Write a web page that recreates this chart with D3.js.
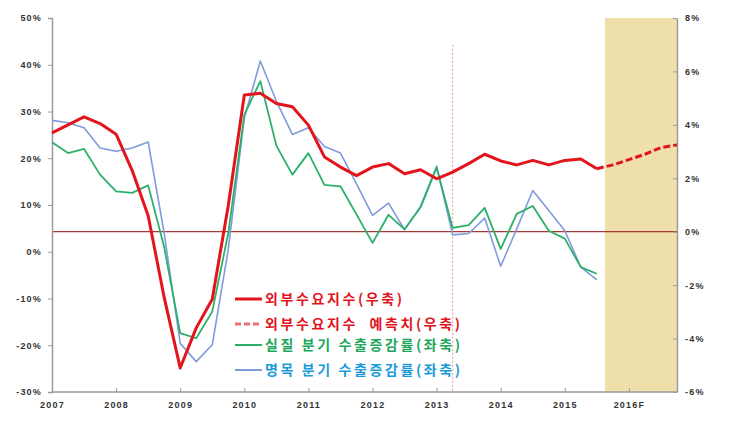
<!DOCTYPE html>
<html><head><meta charset="utf-8">
<script src="https://cdn.jsdelivr.net/npm/d3@7"></script>
<style>
html,body{margin:0;padding:0;background:#fff;}
svg{display:block;}
</style></head>
<body>
<svg id="chart" width="732" height="422"></svg>
<script>
// Quarterly categories 2007Q1 .. 2016Q4 (index 0..39)
const years = ["2007","2008","2009","2010","2011","2012","2013","2014","2015","2016F"];
const leftTicks = [50,40,30,20,10,0,-10,-20,-30];
const rightTicks = [8,6,4,2,0,-2,-4,-6];

// 외부수요지수 (right axis, %), 2007Q1..2015Q3
const demandIndex = [3.7,4.0,4.3,4.05,3.65,2.3,0.6,-2.46,-5.1,-3.6,-2.53,0.98,5.12,5.18,4.8,4.68,
  3.99,2.8,2.42,2.1,2.42,2.55,2.17,2.32,1.98,2.23,2.55,2.9,2.65,2.5,2.67,2.5,2.67,2.72,2.36];
// 외부수요지수 예측치 (right axis, %), 2015Q3..2016Q4
const demandForecast = [2.36,2.5,2.7,2.9,3.15,3.25];
const forecastStart = 34;
// 실질 분기 수출증감률 (left axis, %)
const realExport = [23.4,21.1,22.0,16.5,12.9,12.6,14.2,1.0,-17.4,-18.5,-12.8,4.0,29.3,36.5,22.7,16.5,
  21.1,14.3,14.0,8.0,1.9,7.9,4.8,9.5,18.0,5.1,5.7,9.4,0.6,8.1,9.8,4.5,2.8,-3.3,-4.7];
// 명목 분기 수출증감률 (left axis, %)
const nominalExport = [28.1,27.6,26.5,22.2,21.5,22.2,23.5,4.0,-19.6,-23.5,-19.9,0.5,28.6,40.8,32.2,25.1,
  26.5,22.5,21.1,14.5,7.8,10.4,4.7,9.7,18.3,3.6,3.9,7.2,-3.1,4.9,13.1,8.8,4.5,-3.3,-6.0];

const shadeFrom = 34.5, shadeTo = 39;   // forecast period
const markerAt = 25;                    // dotted vertical marker (2013Q2)

const legendItems = [
  {label:"외부수요지수(우축)", color:"#e3141c", text:"#e3141c", dash:null, w:3},
  {label:"외부수요지수  예측치(우축)", color:"#ee6f7c", text:"#e3141c", dash:"6,3", w:3},
  {label:"실질 분기 수출증감률(좌축)", color:"#2bb06a", text:"#22a65b", dash:null, w:2},
  {label:"명목 분기 수출증감률(좌축)", color:"#7f9bdb", text:"#1c9ad8", dash:null, w:2}
];

const svg = d3.select("#chart");
const L = 52, R = 677, T = 18, B = 392;
const x = d3.scaleLinear().domain([0,39]).range([L,R]);
const yL = d3.scaleLinear().domain([-30,50]).range([B,T]);
const yR = d3.scaleLinear().domain([-6,8]).range([B,T]);

// forecast shading
svg.append("rect").attr("x", x(shadeFrom)).attr("y", T)
  .attr("width", x(shadeTo) - x(shadeFrom)).attr("height", B - T)
  .attr("fill", "#efdfab");

// dotted marker
svg.append("line").attr("x1", x(markerAt)).attr("x2", x(markerAt))
  .attr("y1", yL(44.3)).attr("y2", B)
  .attr("stroke", "#f3a3ad").attr("stroke-width", 1.2).attr("stroke-dasharray", "2,2");

// zero line of right axis
svg.append("line").attr("x1", L).attr("x2", R).attr("y1", yR(0)).attr("y2", yR(0))
  .attr("stroke", "#a33a35").attr("stroke-width", 1.2);

// axes
const fmt = d => d + "%";
const gL = svg.append("g").attr("transform", `translate(${L},0)`)
  .call(d3.axisLeft(yL).tickValues(leftTicks).tickFormat(fmt).tickSize(4).tickPadding(6));
const gR = svg.append("g").attr("transform", `translate(${R},0)`)
  .call(d3.axisRight(yR).tickValues(rightTicks).tickFormat(fmt).tickSize(0).tickPadding(8));
gR.selectAll(".tick").append("line").attr("x1", -4).attr("x2", 0).attr("stroke", "#999");
const gX = svg.append("g").attr("transform", `translate(0,${B})`)
  .call(d3.axisBottom(x).tickValues(d3.range(0, 40, 4)).tickFormat((d,i) => years[i]).tickSize(0).tickPadding(10));
gX.selectAll(".tick").append("line").attr("y1", -4).attr("y2", 0).attr("stroke", "#999");

[gL, gR, gX].forEach(g => {
  g.select(".domain").attr("stroke", "#9a9a9a").attr("stroke-width", 1.5);
  g.selectAll(".tick line").attr("stroke", "#9a9a9a");
  g.selectAll("text").attr("font-family", "Liberation Sans, Arial, sans-serif")
    .attr("font-size", 9).attr("fill", "#333").attr("letter-spacing", "1.2px").attr("font-weight", "bold");
});
gX.select(".domain").attr("d", `M${L},0H${R}`);

// lines
const lineL = d3.line().x((d,i) => x(i)).y(d => yL(d));
const lineR = d3.line().x((d,i) => x(i)).y(d => yR(d));
const lineF = d3.line().x((d,i) => x(forecastStart + i)).y(d => yR(d));

svg.append("path").datum(nominalExport).attr("d", lineL)
  .attr("fill", "none").attr("stroke", "#7f9bdb").attr("stroke-width", 1.6).attr("stroke-linejoin", "round");
svg.append("path").datum(realExport).attr("d", lineL)
  .attr("fill", "none").attr("stroke", "#2bb06a").attr("stroke-width", 1.8).attr("stroke-linejoin", "round");
svg.append("path").datum(demandIndex).attr("d", lineR)
  .attr("fill", "none").attr("stroke", "#e3141c").attr("stroke-width", 3).attr("stroke-linejoin", "round");
svg.append("path").datum(demandForecast).attr("d", lineF)
  .attr("fill", "none").attr("stroke", "#e3141c").attr("stroke-width", 3).attr("stroke-dasharray", "7,3");

// legend
const lg = svg.append("g");
const rowsY = [299, 324, 345, 370];
legendItems.forEach((it, i) => {
  lg.append("line").attr("x1", 235).attr("x2", 262).attr("y1", rowsY[i]).attr("y2", rowsY[i])
    .attr("stroke", it.color).attr("stroke-width", it.w).attr("stroke-dasharray", it.dash);
  lg.append("text").attr("x", 265).attr("y", rowsY[i]).attr("dy", "0.36em")
    .attr("font-family", "Noto Sans CJK KR, sans-serif").attr("font-weight", "bold")
    .attr("font-size", 14).attr("letter-spacing", "2.6px").attr("fill", it.text)
    .style("white-space", "pre").text(it.label);
});
</script>
</body></html>
